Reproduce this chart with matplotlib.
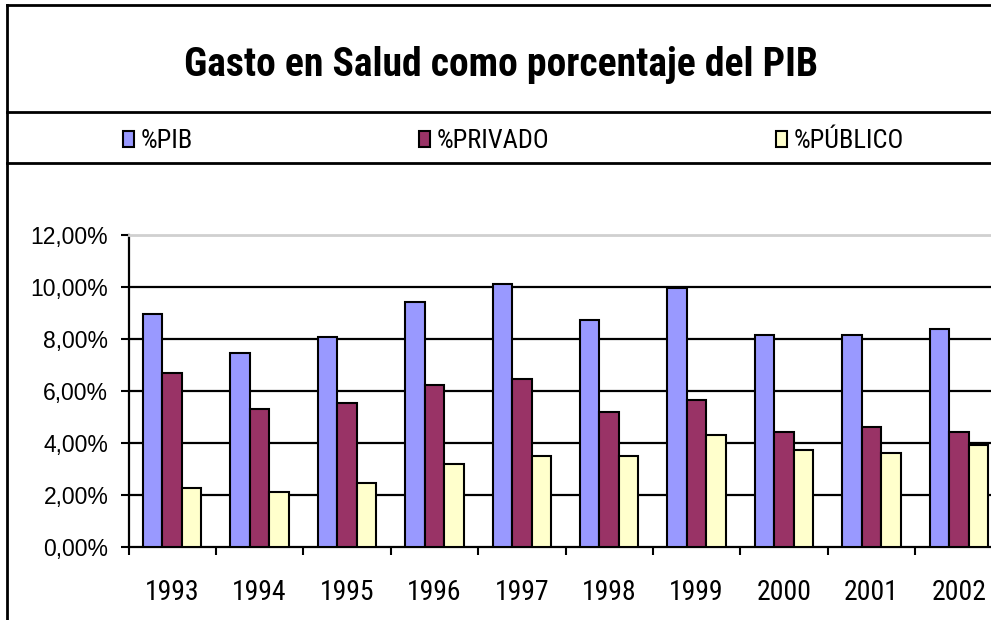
import matplotlib
matplotlib.use("Agg")
import matplotlib.pyplot as plt
from matplotlib.lines import Line2D
from matplotlib.ticker import FixedLocator, FuncFormatter
import numpy as np

# data (percent of GDP)
years = ["1993", "1994", "1995", "1996", "1997", "1998", "1999", "2000", "2001", "2002"]
pib = [8.95, 7.47, 8.05, 9.42, 10.10, 8.74, 9.95, 8.15, 8.15, 8.38]
privado = [6.68, 5.31, 5.54, 6.23, 6.45, 5.20, 5.65, 4.42, 4.63, 4.42]
publico = [2.26, 2.13, 2.46, 3.18, 3.50, 3.50, 4.30, 3.73, 3.63, 3.91]
series_names = ["%PIB", "%PRIVADO", "%PÚBLICO"]
colors = ["#9999FF", "#993366", "#FFFFCC"]

W, H = 991, 620
fig = plt.figure(figsize=(W / 100, H / 100), dpi=100)
fig.patch.set_facecolor("white")

narrow = ["Roboto Condensed", "Liberation Sans", "DejaVu Sans"]
regular = ["Liberation Sans", "DejaVu Sans"]

# plot area runs past the right edge, like the cropped original
ax = fig.add_axes([128.5 / W, (H - 547) / H, 874 / W, (547 - 234.7) / H])

x = np.arange(len(years))
w = 1 / 4.5  # excel gap width 150%
bars = []
for i, (vals, c) in enumerate(zip([pib, privado, publico], colors)):
    b = ax.bar(x + (i - 1) * w, vals, w, color=c, edgecolor="black", linewidth=1.5,
               label=series_names[i], zorder=3)
    bars.append(b)

ax.set_xlim(-0.5, len(years) - 0.5)
ax.set_ylim(0, 12)

ax.yaxis.set_major_locator(FixedLocator(np.arange(0, 13, 2)))
ax.yaxis.set_major_formatter(FuncFormatter(lambda v, p: f"{v:.2f}%".replace(".", ",")))
ax.tick_params(axis="y", direction="out", length=5.5, width=1.5, pad=9,
               labelsize=16.5)
for lab in ax.get_yticklabels():
    lab.set_fontfamily(regular)

# category boundaries get ticks, centers get labels
ax.xaxis.set_major_locator(FixedLocator(np.arange(-0.5, len(years), 1)))
ax.xaxis.set_major_formatter(FuncFormatter(lambda v, p: ""))
ax.xaxis.set_minor_locator(FixedLocator(x))
ax.set_xticklabels(years, minor=True)
ax.tick_params(axis="x", which="major", direction="out", length=6, width=1.5)
ax.tick_params(axis="x", which="minor", length=0, pad=23, labelsize=20)
for lab in ax.get_xticklabels(minor=True):
    lab.set_fontfamily(narrow)

ax.set_axisbelow(True)
ax.yaxis.grid(True, color="black", linewidth=1.6)
glines = ax.get_ygridlines()
glines[-1].set_color("#d0d0d0")
glines[0].set_visible(False)

ax.spines["right"].set_visible(False)
ax.spines["top"].set_color("#d0d0d0")
ax.spines["top"].set_linewidth(2)
ax.spines["left"].set_linewidth(1.6)
ax.spines["bottom"].set_linewidth(1.6)

# outer chart frame and legend band
def px_line(x0, y0, x1, y1, lw=2):
    fig.add_artist(Line2D([x0 / W, x1 / W], [1 - y0 / H, 1 - y1 / H],
                          color="black", linewidth=lw, transform=fig.transFigure))

px_line(7, 5, W, 5)
px_line(7, 5, 7, H)
px_line(7, 112, W, 112)
px_line(7, 163, W, 163)

fig.text(500.8 / W, 1 - 76.5 / H, "Gasto en Salud como porcentaje del PIB",
         ha="center", va="baseline", fontsize=28.5, fontweight="bold",
         family=narrow)

leg = fig.legend(handles=bars, labels=series_names, ncol=3, frameon=False,
                 loc="center left", bbox_to_anchor=(123 / W, 1 - 141 / H),
                 borderpad=0, borderaxespad=0, handlelength=0.42, handleheight=0.57,
                 handletextpad=0.23, columnspacing=8.6,
                 prop={"family": narrow, "size": 19})

fig.savefig("out.png", dpi=100)
